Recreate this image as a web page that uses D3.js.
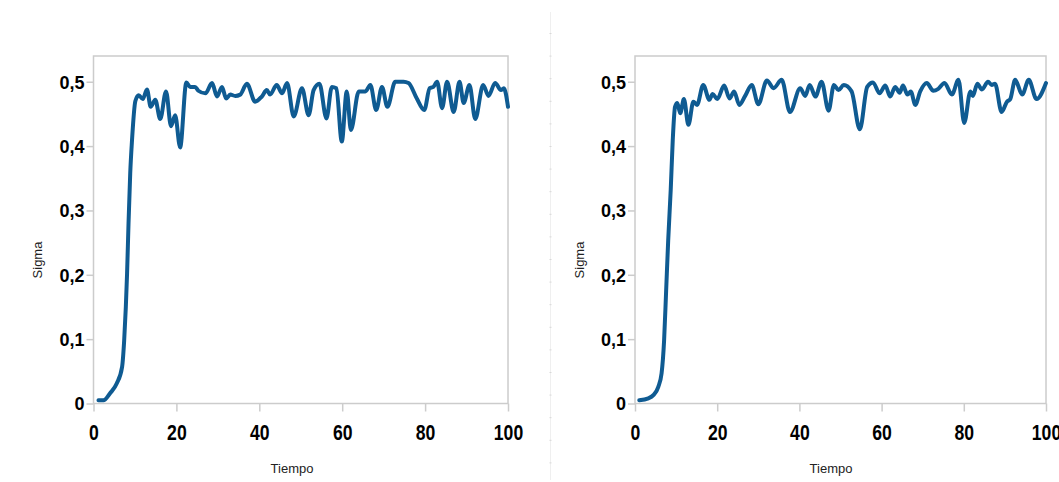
<!DOCTYPE html>
<html>
<head>
<meta charset="utf-8">
<script src="https://cdn.jsdelivr.net/npm/d3@7"></script>
<style>
  html, body { margin: 0; padding: 0; background: #fff; }
  svg { display: block; }
  text { font-family: "Liberation Sans", Arial, sans-serif; }
</style>
</head>
<body>
<svg id="chart" width="1059" height="482"></svg>
<script>
// Sigma over Tiempo, two runs
const tiempoA = [1.2, 2.4, 4, 5.6, 6.9, 7.4, 7.8, 8.1, 8.45, 8.86, 9.3, 10.1, 10.9, 11.9, 12.9, 13.8, 14.9, 16.1, 17.5, 18.7, 19.7, 20.9, 22.4, 23.3, 24.5, 25.3, 27, 28.6, 29.8, 31, 32, 33, 34.2, 35.4, 37, 39, 40.6, 41.8, 42.6, 44.2, 45.5, 46.7, 48.3, 50.3, 51.9, 53.1, 54.5, 56.2, 57.5, 58.6, 59.9, 61.1, 62.1, 64, 65.6, 66.8, 68.2, 69.6, 70.9, 72.8, 74.8, 76, 78, 79.8, 81.1, 82, 82.9, 84.1, 85.3, 86.9, 88.3, 89.3, 90.7, 92.1, 94, 95.3, 96.9, 98.3, 99, 100];
const sigmaA = [0.005, 0.005, 0.016, 0.031, 0.057, 0.098, 0.15, 0.202, 0.28, 0.358, 0.41, 0.47, 0.479, 0.473, 0.488, 0.461, 0.472, 0.442, 0.485, 0.431, 0.448, 0.398, 0.499, 0.492, 0.492, 0.486, 0.482, 0.498, 0.477, 0.492, 0.474, 0.48, 0.478, 0.48, 0.497, 0.469, 0.477, 0.487, 0.48, 0.495, 0.482, 0.498, 0.446, 0.49, 0.448, 0.487, 0.497, 0.443, 0.492, 0.49, 0.407, 0.485, 0.425, 0.485, 0.485, 0.495, 0.456, 0.492, 0.461, 0.5, 0.5, 0.498, 0.474, 0.456, 0.49, 0.492, 0.5, 0.459, 0.5, 0.453, 0.5, 0.467, 0.495, 0.442, 0.495, 0.478, 0.498, 0.487, 0.49, 0.461];

const tiempoB = [1.04, 3.25, 4.46, 5.67, 6.47, 7.08, 7.58, 8.08, 8.69, 9.19, 9.74, 10.3, 11.0, 11.9, 13.0, 14.2, 15.1, 16.6, 18.1, 18.9, 20.0, 21.7, 23.0, 24.1, 25.4, 26.8, 28.4, 30.0, 32.1, 33.7, 35.7, 37.7, 40.2, 41.4, 42.5, 43.9, 45.4, 47.1, 48.4, 49.5, 50.8, 52.7, 54.7, 56.5, 57.9, 59.5, 60.9, 62.1, 63.3, 64.4, 65.2, 66.3, 67.1, 68.2, 69.4, 71.0, 72.6, 73.8, 75.3, 77.1, 78.7, 80.1, 81.6, 82.2, 83.3, 84.4, 85.9, 86.8, 87.6, 89.2, 90.5, 91.3, 92.5, 94.2, 95.8, 97.7, 100];
const sigmaB = [0.005, 0.008, 0.013, 0.026, 0.047, 0.098, 0.176, 0.254, 0.332, 0.41, 0.461, 0.467, 0.451, 0.473, 0.433, 0.469, 0.464, 0.495, 0.472, 0.481, 0.473, 0.494, 0.474, 0.485, 0.464, 0.478, 0.495, 0.465, 0.502, 0.49, 0.503, 0.453, 0.49, 0.478, 0.495, 0.477, 0.5, 0.455, 0.495, 0.487, 0.495, 0.485, 0.426, 0.492, 0.499, 0.482, 0.494, 0.477, 0.492, 0.483, 0.494, 0.48, 0.485, 0.464, 0.485, 0.498, 0.486, 0.489, 0.498, 0.48, 0.503, 0.436, 0.485, 0.478, 0.497, 0.488, 0.5, 0.495, 0.497, 0.453, 0.469, 0.473, 0.503, 0.48, 0.503, 0.473, 0.498];

const xTicks = [0, 20, 40, 60, 80, 100];
const xTickLabels = ["0", "20", "40", "60", "80", "100"];
const yTicks = [0, 0.1, 0.2, 0.3, 0.4, 0.5];
const yTickLabels = ["0", "0,1", "0,2", "0,3", "0,4", "0,5"];
const xTitle = "Tiempo";
const yTitle = "Sigma";

const svg = d3.select("#chart");
const lineColor = "#0f5b92";
const frameColor = "#cccccc";

// faint divider between the two panels
const divider = svg.append("g");
divider.append("line")
  .attr("x1", 550.5).attr("x2", 550.5).attr("y1", 12).attr("y2", 480)
  .attr("stroke", "#efefef").attr("stroke-width", 1);
divider.selectAll("line.dot")
  .data(d3.range(33, 480, 22.6))
  .join("line")
  .attr("class", "dot")
  .attr("x1", 549.5).attr("x2", 551.5)
  .attr("y1", d => d + 0.5).attr("y2", d => d + 0.5)
  .attr("stroke", "#d8d8d8").attr("stroke-width", 1);

function drawPanel(left, right, tiempo, sigma, titleX, sigmaX) {
  const top = 56, bottom = 403.5;
  const x = d3.scaleLinear().domain([0, 100]).range([left, right]);
  const y = d3.scaleLinear().domain([0, 0.54]).range([bottom, top]);
  const g = svg.append("g");

  // plot frame
  g.append("rect")
    .attr("x", left).attr("y", top)
    .attr("width", right - left).attr("height", bottom - top)
    .attr("fill", "none").attr("stroke", frameColor).attr("stroke-width", 1.5);

  // x axis
  const xAxis = g.append("g")
    .attr("transform", `translate(0,${bottom})`)
    .call(d3.axisBottom(x).tickValues(xTicks).tickSize(8).tickSizeOuter(0)
      .tickFormat((d, i) => xTickLabels[i]));
  xAxis.select(".domain").remove();
  xAxis.selectAll(".tick line").attr("stroke", frameColor).attr("stroke-width", 1.5);
  xAxis.selectAll(".tick text")
    .attr("y", 0).attr("dy", 0)
    .attr("transform", "translate(0,36) scale(0.8,1)")
    .attr("fill", "#000")
    .style("font-size", "22px").style("font-weight", "bold");

  // y axis
  const yAxis = g.append("g")
    .attr("transform", `translate(${left},0)`)
    .call(d3.axisLeft(y).tickValues(yTicks).tickSize(7).tickSizeOuter(0)
      .tickFormat((d, i) => yTickLabels[i]));
  yAxis.select(".domain").remove();
  yAxis.selectAll(".tick line").attr("stroke", frameColor).attr("stroke-width", 1.5);
  yAxis.selectAll(".tick text")
    .attr("x", -9).attr("dy", "0.36em")
    .attr("fill", "#000")
    .style("font-size", "18px").style("font-weight", "bold");

  // axis titles
  g.append("text")
    .attr("x", titleX).attr("y", 473)
    .attr("text-anchor", "middle")
    .attr("fill", "#222")
    .style("font-size", "13px")
    .text(xTitle);
  g.append("text")
    .attr("transform", `translate(${sigmaX},260) rotate(-90)`)
    .attr("text-anchor", "middle")
    .attr("fill", "#222")
    .style("font-size", "13px")
    .text(yTitle);

  // series line
  const pts = tiempo.map((t, i) => [t, sigma[i]]);
  g.append("path")
    .datum(pts)
    .attr("fill", "none")
    .attr("stroke", lineColor)
    .attr("stroke-width", 4)
    .attr("stroke-linejoin", "round")
    .attr("stroke-linecap", "round")
    .attr("d", d3.line().x(d => x(d[0])).y(d => y(d[1])).curve(d3.curveMonotoneX));
}

drawPanel(93.5, 508, tiempoA, sigmaA, 292, 42);
drawPanel(635, 1046, tiempoB, sigmaB, 831, 584);
</script>
</body>
</html>
